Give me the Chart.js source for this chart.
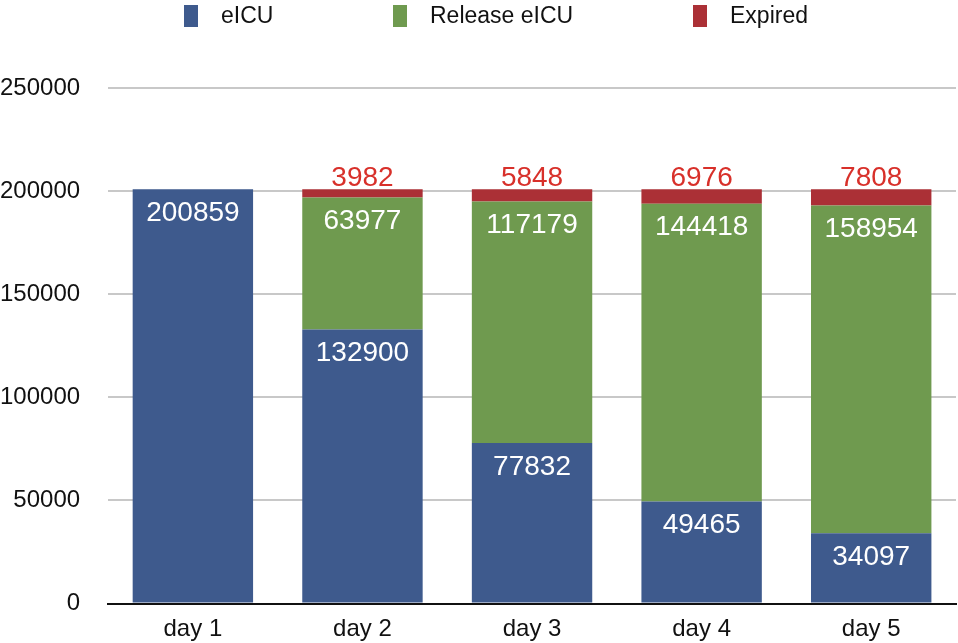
<!DOCTYPE html>
<html>
<head>
<meta charset="utf-8">
<script src="https://cdn.jsdelivr.net/npm/chart.js@4"></script>
<style>
  html, body { margin: 0; padding: 0; background: #fff; overflow: hidden; }
  #wrap { position: relative; width: 958px; height: 643px; overflow: hidden; }
  #legend { position: absolute; top: 0; left: 0; width: 958px; height: 30px;
            font-family: "Liberation Sans", Arial, sans-serif; font-size: 23px; color: #111; }
  .item { position: absolute; top: 2px; display: flex; align-items: center; }
  .box { width: 14px; height: 22px; margin-right: 23px; }
</style>
</head>
<body>
<div id="wrap">
  <canvas id="chart" width="958" height="646"></canvas>
  <div id="legend"></div>
</div>
<script>
var categories = ['day 1', 'day 2', 'day 3', 'day 4', 'day 5'];
var eicu = [200859, 132900, 77832, 49465, 34097];
var releaseEicu = [0, 63977, 117179, 144418, 158954];
var expired = [0, 3982, 5848, 6976, 7808];
var yTicks = [0, 50000, 100000, 150000, 200000, 250000];

var colors = ['#3e5a8d', '#6f9a4f', '#ab3036'];
var names = ['eICU', 'Release eICU', 'Expired'];
var fontFamily = '"Liberation Sans", Arial, sans-serif';

// legend drawn as html
var legendX = [184, 393, 693];
var legend = document.getElementById('legend');
names.forEach(function (n, i) {
    var d = document.createElement('div');
    d.className = 'item';
    d.style.left = legendX[i] + 'px';
    d.innerHTML = '<span class="box" style="background:' + colors[i] + '"></span><span>' + n + '</span>';
    legend.appendChild(d);
});

// value labels on top of each segment
var valueLabels = {
    id: 'valueLabels',
    afterDatasetsDraw: function (chart) {
        var ctx = chart.ctx;
        ctx.save();
        ctx.font = '28px ' + fontFamily;
        ctx.textAlign = 'center';
        ctx.textBaseline = 'middle';
        chart.data.datasets.forEach(function (ds, i) {
            chart.getDatasetMeta(i).data.forEach(function (bar, j) {
                var v = ds.data[j];
                if (!v) return;
                if (i === 2) {
                    ctx.fillStyle = '#d8302a';
                    ctx.fillText(v, bar.x, bar.y - 11);
                } else {
                    ctx.fillStyle = '#ffffff';
                    ctx.fillText(v, bar.x, bar.y + 24);
                }
            });
        });
        ctx.restore();
    }
};

var ctx = document.getElementById('chart').getContext('2d');
new Chart(ctx, {
    type: 'bar',
    data: {
        labels: categories,
        datasets: [
            { label: names[0], data: eicu, backgroundColor: colors[0] },
            { label: names[1], data: releaseEicu, backgroundColor: colors[1] },
            { label: names[2], data: expired, backgroundColor: colors[2] }
        ]
    },
    options: {
        responsive: false,
        animation: false,
        layout: { padding: { top: 88, right: 2, left: -28, bottom: -10 } },
        datasets: { bar: { categoryPercentage: 1, barPercentage: 0.71 } },
        plugins: { legend: { display: false }, tooltip: { enabled: false } },
        scales: {
            x: {
                stacked: true,
                grid: { display: false, drawTicks: false },
                border: { color: '#111', width: 2 },
                ticks: { color: '#111', padding: 11, font: { size: 24, family: fontFamily } }
            },
            y: {
                stacked: true,
                min: 0,
                max: 250000,
                afterBuildTicks: function (axis) {
                    axis.ticks = yTicks.map(function (v) { return { value: v }; });
                },
                grid: { color: '#c8c8c8', lineWidth: 2, drawTicks: false },
                border: { display: false },
                ticks: {
                    color: '#111', padding: 28, font: { size: 24, family: fontFamily },
                    callback: function (v) { return String(v); }
                }
            }
        }
    },
    plugins: [valueLabels]
});
</script>
</body>
</html>
